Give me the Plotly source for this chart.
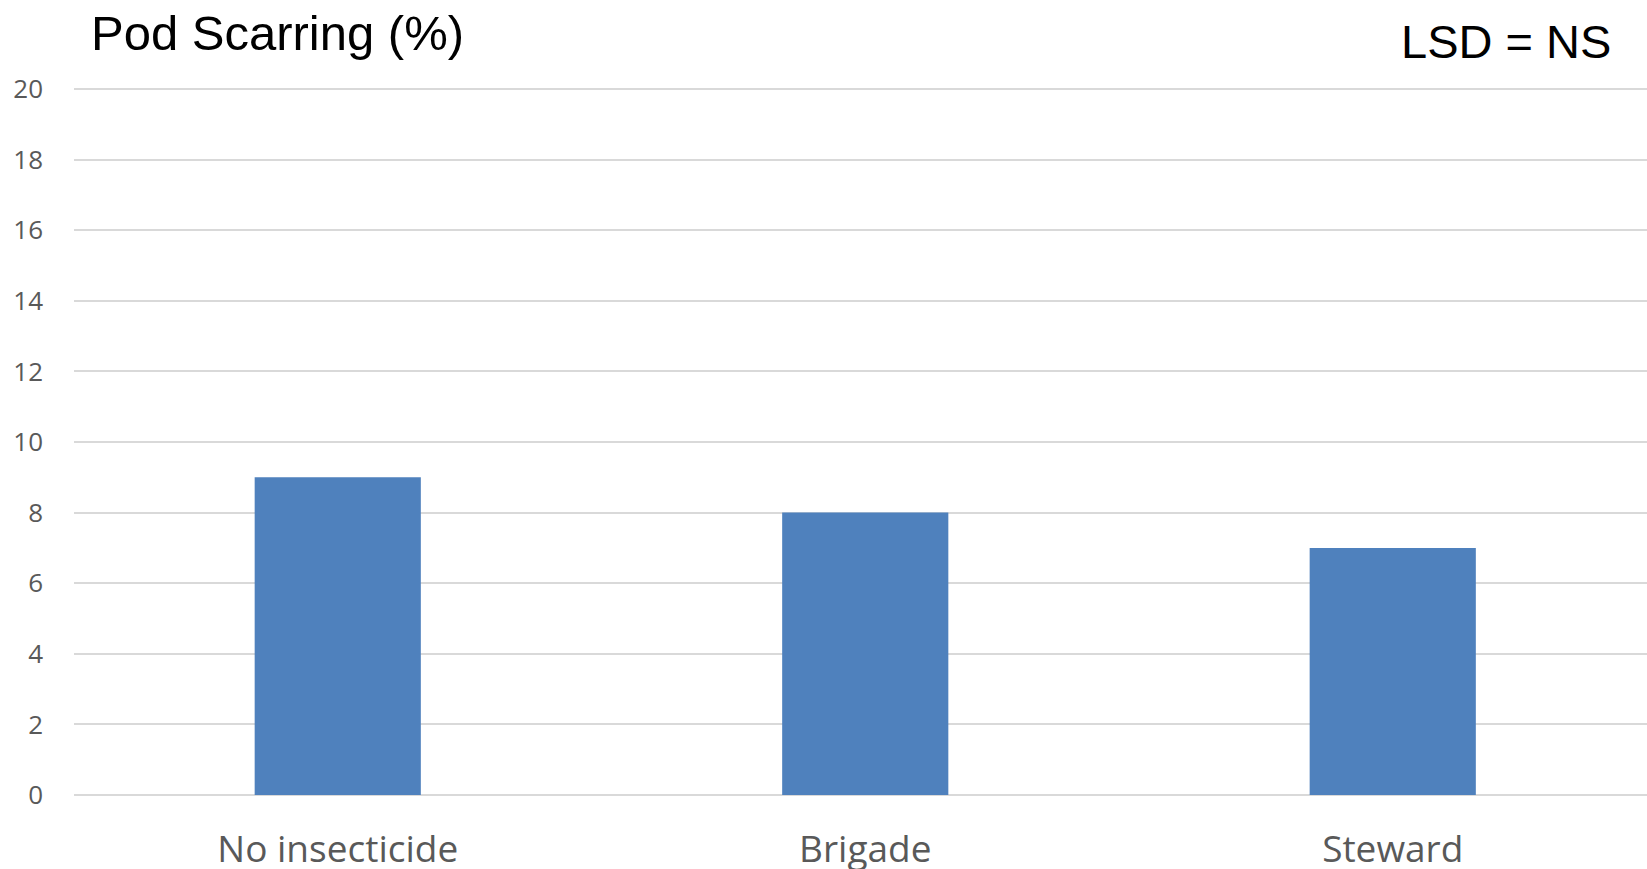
import plotly.graph_objects as go

categories = ["No insecticide", "Brigade", "Steward"]
values = [9, 8, 7]
y_ticks = [0, 2, 4, 6, 8, 10, 12, 14, 16, 18, 20]
title_text = "Pod Scarring (%)"
lsd_text = "LSD = NS"

W, H = 1647, 869
L, R, T, B = 74, 0, 87, 74
PW, PH = W - L - R, H - T - B
y_top = 20 * PH / 706.0

fig = go.Figure(go.Bar(
    x=categories, y=values,
    marker=dict(color="#4f81bd", line=dict(width=0)),
    hoverinfo="x+y",
))

fig.update_layout(
    width=W, height=H,
    margin=dict(l=L, r=R, t=T, b=B, pad=0, autoexpand=False),
    paper_bgcolor="white", plot_bgcolor="white",
    bargap=0.685,
    showlegend=False,
    font=dict(family="Open Sans", color="#595959"),
    xaxis=dict(
        range=[-0.5, 2.482], automargin=False,
        showgrid=False, zeroline=False, showline=False,
        ticks="", tickfont=dict(family="Open Sans", size=37, color="#595959"),
        ticklabelstandoff=29,
        fixedrange=True,
    ),
    yaxis=dict(
        range=[0, y_top], tickvals=y_ticks, showgrid=True, automargin=False,
        gridcolor="#d9d9d9", gridwidth=1.5,
        zeroline=True, zerolinecolor="#d9d9d9", zerolinewidth=1.5,
        showline=False, ticks="",
        tickfont=dict(family="Open Sans", size=26, color="#595959"),
        ticklabelstandoff=30,
        fixedrange=True,
    ),
    annotations=[
        dict(text=title_text, xref="paper", yref="paper",
             x=(90 - L) / PW, y=(H - B - 33) / PH, xanchor="left", yanchor="middle",
             showarrow=False, borderpad=0,
             font=dict(family="Liberation Sans", size=49, color="black")),
        dict(text=lsd_text, xref="paper", yref="paper",
             x=(1612 - L) / PW, y=(H - B - 41.5) / PH, xanchor="right", yanchor="middle",
             showarrow=False, borderpad=0,
             font=dict(family="Liberation Sans", size=47, color="black")),
    ],
)

fig.write_html("out.html", config={"displayModeBar": False})
